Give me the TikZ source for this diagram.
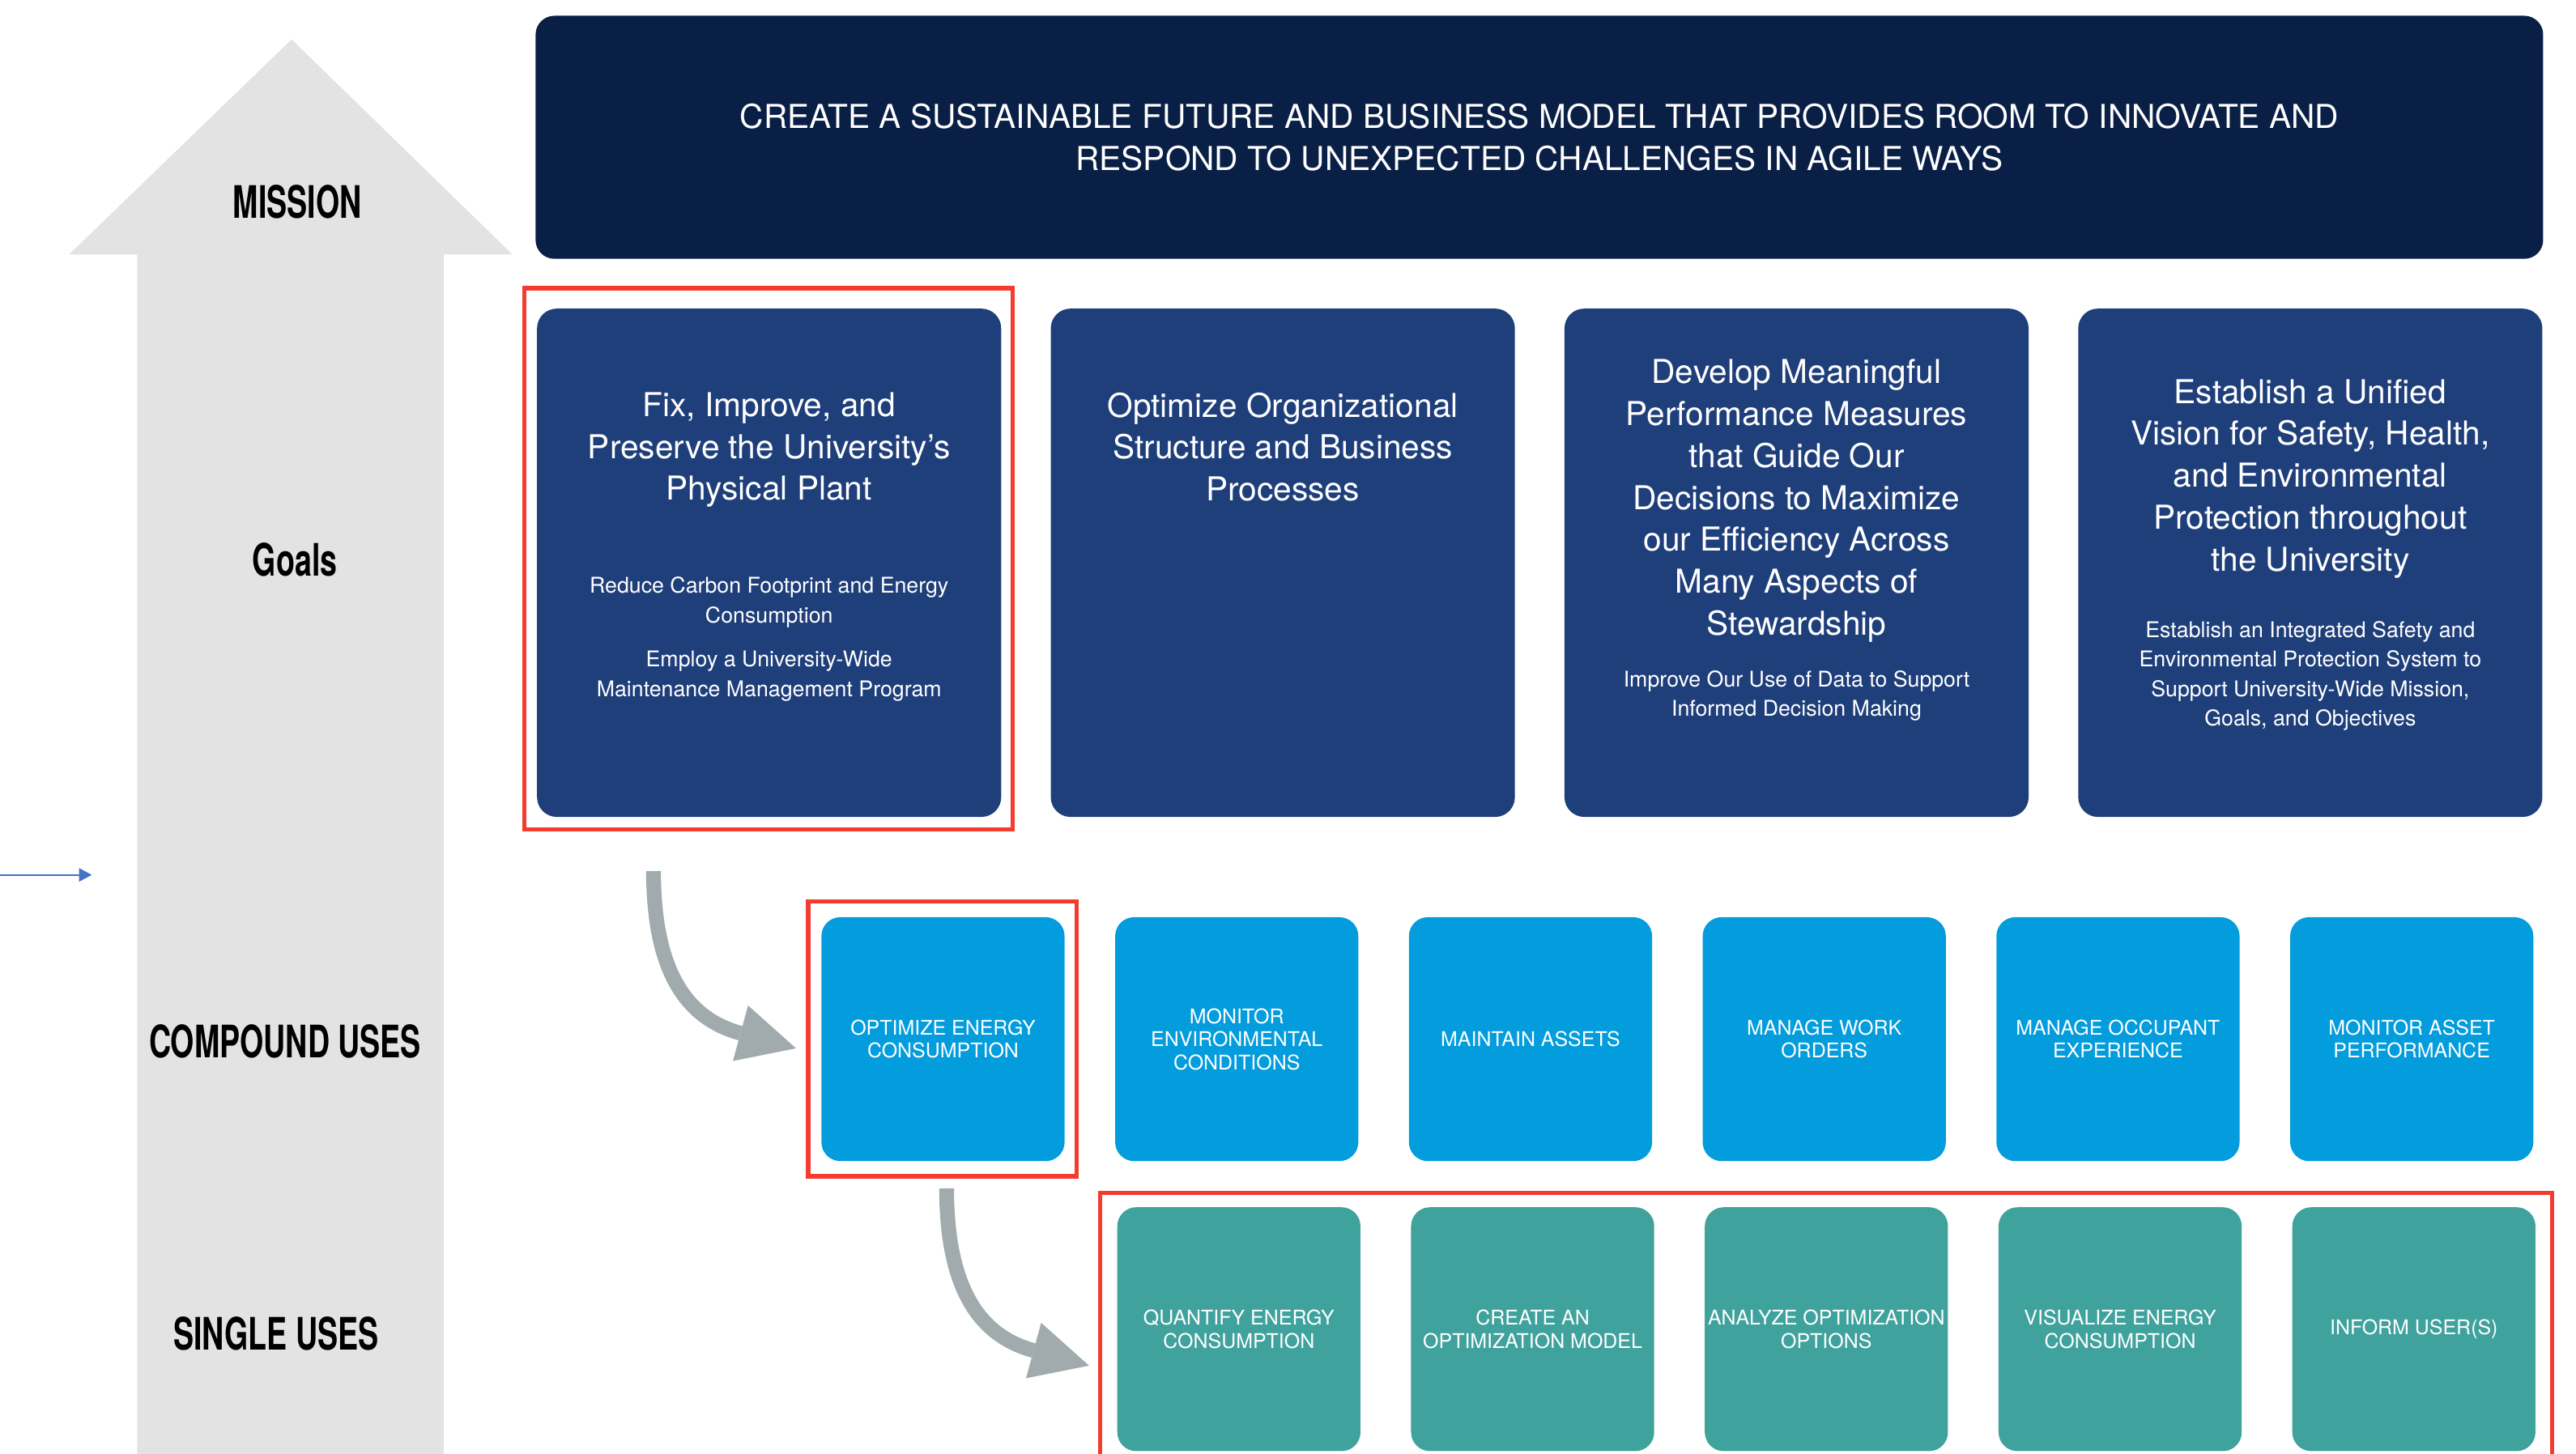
\documentclass[tikz,border=0pt]{standalone}
\usepackage{fontspec}
\setmainfont{TeX Gyre Heros}
\newfontfamily\condfont[FakeStretch=0.68]{TeX Gyre Heros}
\usetikzlibrary{arrows.meta}

\definecolor{missionblue}{RGB}{9,31,69}
\definecolor{goalblue}{RGB}{31,63,123}
\definecolor{compoundblue}{RGB}{3,156,221}
\definecolor{singleteal}{RGB}{64,162,157}
\definecolor{pillargray}{RGB}{227,227,227}
\definecolor{flowgray}{RGB}{161,170,173}
\definecolor{framered}{RGB}{244,59,47}
\definecolor{linkblue}{RGB}{68,114,196}

\begin{document}
\begin{tikzpicture}[
        x=0.2mm,
        y=-0.2mm,
        every node/.style={text=white, align=center, inner sep=0pt},
        missionbox/.style={
            fill=missionblue,
            rounded corners=2.3mm,
            minimum width=244.4mm,
            minimum height=29.6mm,
            font=\fontsize{11.4}{14.7}\selectfont
        },
        goalbox/.style={
            fill=goalblue,
            rounded corners=2.4mm,
            minimum width=56.5mm,
            minimum height=61.9mm
        },
        goaltitle/.style={anchor=north, font=\fontsize{11.4}{14.5}\selectfont},
        goalsub/.style={anchor=north, font=\fontsize{7.5}{10.2}\selectfont},
        usebox/.style={
            rounded corners=2.3mm,
            minimum width=29.6mm,
            minimum height=29.7mm,
            font=\fontsize{7}{8}\selectfont
        },
        compound/.style={usebox, fill=compoundblue},
        single/.style={usebox, fill=singleteal},
        level/.style={text=black, font=\condfont\bfseries\fontsize{15.5}{18}\selectfont},
        redframe/.style={draw=framered, line width=0.52mm},
        flow/.style={
            draw=flowgray,
            line width=1.8mm,
            -{Triangle[length=7mm, width=7mm, line width=0pt]}
        }
    ]
        \useasboundingbox (0,0) rectangle (1568,885);

        % Pillar arrow behind the level names
        \fill[pillargray] (177.5,24) -- (312,155) -- (270,155) -- (270,890)
            -- (83.5,890) -- (83.5,155) -- (42,155) -- cycle;

        \node[level] (lmission) at (181,123) {MISSION};
        \node[level] (lgoals) at (179.5,341) {Goals};
        \node[level] (lcompound) at (173.5,634) {COMPOUND USES};
        \node[level] (lsingle) at (168,812) {SINGLE USES};

        \coordinate (in0) at (0,532.7);
        \coordinate (in1) at (55.9,532.7);
        \draw[linkblue, line width=0.2mm,
            -{Triangle[length=1.55mm, width=1.6mm]}] (in0) -- (in1);

        % Mission banner
        \node[missionbox] (mission) at (937,83.6)
            {CREATE A SUSTAINABLE FUTURE AND BUSINESS MODEL THAT PROVIDES ROOM TO INNOVATE AND\\
             RESPOND TO UNEXPECTED CHALLENGES IN AGILE WAYS};

        % Goals: four columns, 312.7 apart
        \foreach \k in {1,...,4}
            \node[goalbox] (g\k) at ({468.15+(\k-1)*312.7},342.65) {};

        \node[goaltitle] (g1t) at (468.15,238.6)
            {Fix, Improve, and\\Preserve the University's\\Physical Plant};
        \node[goalsub] (g1s) at (468.15,351)
            {Reduce Carbon Footprint and Energy\\Consumption\\[1.8mm]
             Employ a University-Wide\\Maintenance Management Program};

        \node[goaltitle] (g2t) at (780.85,238.6)
            {Optimize Organizational\\Structure and Business\\Processes};

        \node[goaltitle] (g3t) at (1093.55,218.6)
            {Develop Meaningful\\Performance Measures\\that Guide Our\\Decisions to Maximize\\
             our Efficiency Across\\Many Aspects of\\Stewardship};
        \node[goalsub] (g3s) at (1093.55,408)
            {Improve Our Use of Data to Support\\Informed Decision Making};

        \node[goaltitle] (g4t) at (1406.25,230.6)
            {Establish a Unified\\Vision for Safety, Health,\\and Environmental\\
             Protection throughout\\the University};
        \node[goalsub] (g4s) at (1406.25,378)
            {Establish an Integrated Safety and\\Environmental Protection System to\\
             Support University-Wide Mission,\\Goals, and Objectives};

        % Compound uses: six boxes, 178.8 apart
        \foreach \txt [count=\k] in {
                {OPTIMIZE ENERGY\\CONSUMPTION},
                {MONITOR\\ENVIRONMENTAL\\CONDITIONS},
                {MAINTAIN ASSETS},
                {MANAGE WORK\\ORDERS},
                {MANAGE OCCUPANT\\EXPERIENCE},
                {MONITOR ASSET\\PERFORMANCE}}
            \node[compound] (c\k) at ({574+(\k-1)*178.8},632.7) {\txt};

        % Single uses: five boxes under compound 2..6
        \foreach \txt [count=\k] in {
                {QUANTIFY ENERGY\\CONSUMPTION},
                {CREATE AN\\OPTIMIZATION MODEL},
                {ANALYZE OPTIMIZATION\\OPTIONS},
                {VISUALIZE ENERGY\\CONSUMPTION},
                {INFORM USER(S)}}
            \node[single] (s\k) at ({754.1+(\k-1)*178.8},809.3) {\txt};

        % Highlight frames
        \draw[redframe] (319,175.5) rectangle (616.4,505);
        \draw[redframe] (492,549) rectangle (655.4,716.2);
        \draw[redframe] (669.6,726.3) rectangle (1553.4,900);

        % Drill-down arrows
        \coordinate (f1a) at (397.8,530.4);
        \coordinate (f1b) at (484.5,638.3);
        \draw[flow] (f1a) .. controls +(0,62) and +(-66,-18) .. (f1b);

        \coordinate (f2a) at (576.2,723.6);
        \coordinate (f2b) at (662.9,831.5);
        \draw[flow] (f2a) .. controls +(0,62) and +(-66,-18) .. (f2b);

    \end{tikzpicture}
\end{document}
